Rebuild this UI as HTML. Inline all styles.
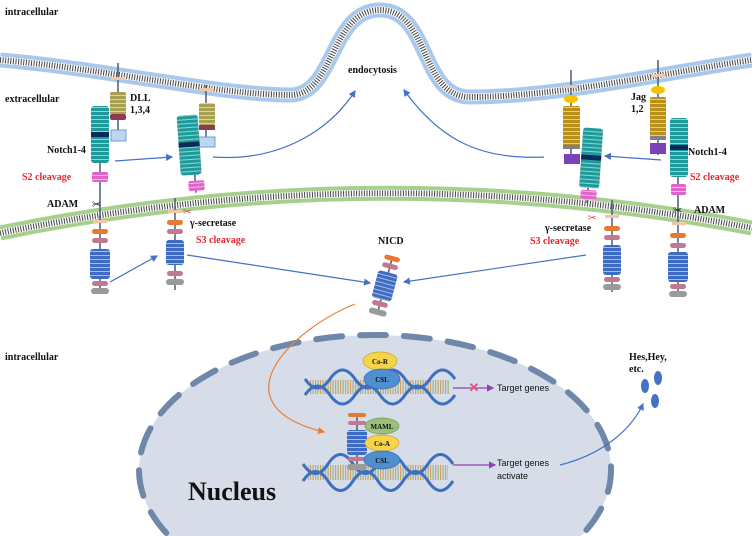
<!DOCTYPE html>
<html><head><meta charset="utf-8"><style>
html,body{margin:0;padding:0;background:#fff;width:752px;height:536px;overflow:hidden;}
svg{display:block;overflow:hidden;}
.t{font-family:"Liberation Serif",serif;font-weight:bold;font-size:10px;fill:#111;}
.r{font-family:"Liberation Serif",serif;font-weight:bold;font-size:10px;fill:#e8262b;}
.s{font-family:"Liberation Sans",sans-serif;font-size:9px;fill:#111;}
</style></head><body>
<svg width="752" height="536" viewBox="0 0 752 536" xmlns="http://www.w3.org/2000/svg">
<defs>
<pattern id="st" width="6" height="4" patternUnits="userSpaceOnUse"><rect width="6" height="1" y="3" fill="rgba(255,255,255,0.55)"/></pattern>
<pattern id="bp" width="5" height="20" patternUnits="userSpaceOnUse"><rect width="1.2" height="20" fill="#d9822b"/><rect x="2.5" width="1.2" height="20" fill="#7aa85a"/></pattern>
<marker id="ab" markerWidth="6" markerHeight="6" refX="5" refY="3" orient="auto"><path d="M0,0 L6,3 L0,6z" fill="#4472c4"/></marker>
<marker id="ao" markerWidth="6" markerHeight="6" refX="5" refY="3" orient="auto"><path d="M0,0 L6,3 L0,6z" fill="#ed7d31"/></marker>
<marker id="ap" markerWidth="6" markerHeight="6" refX="5" refY="3" orient="auto"><path d="M0,0 L6,3 L0,6z" fill="#8e44ad"/></marker>
</defs>
<!-- membranes -->
<g fill="none">
<path d="M0,60 C100,68 220,95 290,95 C335,95 330,10 380,10 C430,10 420,97 470,97 C560,97 680,70 752,60" stroke="#a9c9ec" stroke-width="15"/>
<path d="M0,60 C100,68 220,95 290,95 C335,95 330,10 380,10 C430,10 420,97 470,97 C560,97 680,70 752,60" stroke="#fff" stroke-width="7"/>
<path d="M0,60 C100,68 220,95 290,95 C335,95 330,10 380,10 C430,10 420,97 470,97 C560,97 680,70 752,60" stroke="#444" stroke-width="6" stroke-dasharray="1 1.6"/>
<path d="M0,233 Q376,156 752,228" stroke="#a8d08d" stroke-width="15"/>
<path d="M0,233 Q376,156 752,228" stroke="#fff" stroke-width="7"/>
<path d="M0,233 Q376,156 752,228" stroke="#444" stroke-width="6" stroke-dasharray="1 1.6"/>
</g>

<!-- nucleus -->
<path d="M169,536 A236,135 0 1 1 581,536 Z" fill="#d6dde8"/>
<path d="M166.3,533 A236,135 0 1 1 583.7,533" fill="none" stroke="#6f88aa" stroke-width="6" stroke-dasharray="26 18" stroke-linecap="round"/>

<!-- labels -->
<text class="t" x="5" y="15" font-size="11">intracellular</text>
<text class="t" x="5" y="102" font-size="11">extracellular</text>
<text class="t" x="5" y="360" font-size="11">intracellular</text>
<text class="t" x="348" y="73" font-size="11">endocytosis</text>
<text class="t" x="188" y="500" style="font-size:26px">Nucleus</text>
<text class="t" x="378" y="244">NICD</text>
<text class="t" x="629" y="360">Hes,Hey,</text>
<text class="t" x="629" y="372">etc.</text>

<!-- left notch + DLL -->
<g stroke="#4a5a7a" stroke-width="1.5"><line x1="100" y1="106" x2="100" y2="292"/><line x1="118" y1="63" x2="118" y2="140"/></g>
<rect x="111" y="77" width="14" height="3" fill="#f2c7a5"/>
<rect x="110" y="92" width="16" height="22" rx="2" fill="#a6a050"/><rect x="110" y="92" width="16" height="22" fill="url(#st)"/>
<rect x="110" y="114" width="16" height="6" rx="2" fill="#8e3b4f"/>
<rect x="111" y="130" width="15" height="11" fill="#bdd5ee" stroke="#6a9fd0"/>
<rect x="91" y="106" width="18" height="57" rx="3" fill="#1f9a9a"/><rect x="91" y="106" width="18" height="57" fill="url(#st)"/>
<rect x="91" y="132" width="18" height="5" fill="#0d2a5c"/>
<rect x="92" y="172" width="16" height="10" rx="2" fill="#e064c8"/><rect x="92" y="172" width="16" height="10" fill="url(#st)"/>
<rect x="93" y="220" width="14" height="3" fill="#f2c7a5"/>
<rect x="92" y="229" width="16" height="5" rx="2.5" fill="#e67a2e"/>
<rect x="92" y="238" width="16" height="5" rx="2.5" fill="#c27890"/>
<rect x="90" y="249" width="20" height="30" rx="3" fill="#3e6bc4"/><rect x="90" y="249" width="20" height="30" fill="url(#st)"/>
<rect x="92" y="281" width="16" height="5" rx="2.5" fill="#c27890"/>
<rect x="91" y="288" width="18" height="6" rx="3" fill="#9a9a9a"/>
<text class="t" x="130" y="101">DLL</text><text class="t" x="130" y="113">1,3,4</text>
<text class="t" x="47" y="153">Notch1-4</text>
<text class="r" x="22" y="180">S2 cleavage</text>
<text class="t" x="47" y="207">ADAM</text>
<text x="92" y="208" font-size="11" fill="#111" font-family="DejaVu Sans">✂</text>

<!-- middle left complex -->
<line x1="206" y1="85" x2="206" y2="137" stroke="#4a5a7a" stroke-width="1.5"/>
<rect x="199" y="88" width="14" height="3" fill="#f2c7a5"/>
<rect x="199" y="103" width="16" height="22" rx="2" fill="#a6a050"/><rect x="199" y="103" width="16" height="22" fill="url(#st)"/>
<rect x="199" y="125" width="16" height="5" fill="#8e3b4f"/>
<rect x="199" y="137" width="16" height="10" fill="#bdd5ee" stroke="#6a9fd0"/>
<g transform="rotate(-4 190 150)">
<line x1="193" y1="175" x2="193" y2="193" stroke="#4a5a7a" stroke-width="1.5"/>
<rect x="179" y="115" width="21" height="60" rx="3" fill="#1f9a9a"/><rect x="179" y="115" width="21" height="60" fill="url(#st)"/>
<rect x="179" y="142" width="21" height="5" fill="#0d2a5c"/>
<rect x="186" y="181" width="16" height="10" rx="2" fill="#e064c8"/><rect x="186" y="181" width="16" height="10" fill="url(#st)"/>
</g>
<line x1="175" y1="198" x2="175" y2="290" stroke="#4a5a7a" stroke-width="1.5"/>
<rect x="168" y="210" width="14" height="3" fill="#f2c7a5"/>
<rect x="167" y="220" width="16" height="5" rx="2.5" fill="#e67a2e"/>
<rect x="167" y="229" width="16" height="5" rx="2.5" fill="#c27890"/>
<rect x="166" y="240" width="18" height="25" rx="3" fill="#3e6bc4"/><rect x="166" y="240" width="18" height="25" fill="url(#st)"/>
<rect x="167" y="271" width="16" height="5" rx="2.5" fill="#c27890"/>
<rect x="166" y="279" width="18" height="6" rx="3" fill="#9a9a9a"/>
<text x="183" y="215" font-size="10" fill="#d9443a" font-family="DejaVu Sans">✂</text>
<text class="t" x="190" y="226">γ-secretase</text>
<text class="r" x="196" y="243">S3 cleavage</text>

<!-- right Jag + notch -->
<g stroke="#4a5a7a" stroke-width="1.5"><line x1="658" y1="60" x2="658" y2="155"/><line x1="678" y1="118" x2="678" y2="297"/></g>
<rect x="651" y="74" width="14" height="3" fill="#f2c7a5"/>
<ellipse cx="658" cy="90" rx="7" ry="4" fill="#f5c400"/>
<rect x="650" y="97" width="16" height="40" rx="2" fill="#b8901a"/><rect x="650" y="97" width="16" height="40" fill="url(#st)"/>
<rect x="650" y="136" width="16" height="4" fill="#7f7f8f"/>
<rect x="650" y="143" width="16" height="11" fill="#7a44b8"/>
<rect x="670" y="118" width="18" height="59" rx="3" fill="#1f9a9a"/><rect x="670" y="118" width="18" height="59" fill="url(#st)"/>
<rect x="670" y="145" width="18" height="5" fill="#0d2a5c"/>
<rect x="671" y="184" width="15" height="11" rx="2" fill="#e064c8"/><rect x="671" y="184" width="15" height="11" fill="url(#st)"/>
<rect x="672" y="222" width="14" height="3" fill="#f2c7a5"/>
<rect x="670" y="233" width="16" height="5" rx="2.5" fill="#e67a2e"/>
<rect x="670" y="243" width="16" height="5" rx="2.5" fill="#c27890"/>
<rect x="668" y="252" width="20" height="30" rx="3" fill="#3e6bc4"/><rect x="668" y="252" width="20" height="30" fill="url(#st)"/>
<rect x="670" y="284" width="16" height="5" rx="2.5" fill="#c27890"/>
<rect x="669" y="291" width="18" height="6" rx="3" fill="#9a9a9a"/>
<text x="673" y="214" font-size="11" fill="#111" font-family="DejaVu Sans">✂</text>
<text class="t" x="631" y="100">Jag</text><text class="t" x="631" y="112">1,2</text>
<text class="t" x="688" y="155">Notch1-4</text>
<text class="r" x="690" y="180">S2 cleavage</text>
<text class="t" x="694" y="213">ADAM</text>

<!-- middle right complex -->
<line x1="571" y1="70" x2="571" y2="160" stroke="#4a5a7a" stroke-width="1.5"/>
<rect x="564" y="85" width="14" height="3" fill="#f2c7a5"/>
<ellipse cx="571" cy="99" rx="7" ry="4" fill="#f5c400"/>
<rect x="563" y="106" width="17" height="40" rx="2" fill="#b8901a"/><rect x="563" y="106" width="17" height="40" fill="url(#st)"/>
<rect x="563" y="145" width="17" height="4" fill="#7f7f8f"/>
<rect x="564" y="154" width="16" height="10" fill="#7a44b8"/>
<g transform="rotate(4 590 160)">
<line x1="590" y1="188" x2="590" y2="203" stroke="#4a5a7a" stroke-width="1.5"/>
<rect x="581" y="128" width="20" height="60" rx="3" fill="#1f9a9a"/><rect x="581" y="128" width="20" height="60" fill="url(#st)"/>
<rect x="581" y="155" width="20" height="5" fill="#0d2a5c"/>
<rect x="583" y="190" width="16" height="10" rx="2" fill="#e064c8"/><rect x="583" y="190" width="16" height="10" fill="url(#st)"/>
</g>
<line x1="612" y1="200" x2="612" y2="292" stroke="#4a5a7a" stroke-width="1.5"/>
<rect x="605" y="215" width="14" height="3" fill="#f2c7a5"/>
<rect x="604" y="226" width="16" height="5" rx="2.5" fill="#e67a2e"/>
<rect x="604" y="235" width="16" height="5" rx="2.5" fill="#c27890"/>
<rect x="603" y="245" width="18" height="30" rx="3" fill="#3e6bc4"/><rect x="603" y="245" width="18" height="30" fill="url(#st)"/>
<rect x="604" y="277" width="16" height="5" rx="2.5" fill="#c27890"/>
<rect x="603" y="284" width="18" height="6" rx="3" fill="#9a9a9a"/>
<text x="588" y="221" font-size="10" fill="#d9443a" font-family="DejaVu Sans">✂</text>
<text class="t" x="545" y="231">γ-secretase</text>
<text class="r" x="530" y="244">S3 cleavage</text>

<!-- NICD -->
<g transform="rotate(15 385 285)">
<line x1="385" y1="255" x2="385" y2="315" stroke="#4a5a7a" stroke-width="1.5"/>
<rect x="377" y="255" width="16" height="5" rx="2.5" fill="#e67a2e"/>
<rect x="377" y="263" width="16" height="5" rx="2.5" fill="#c27890"/>
<rect x="375" y="272" width="20" height="28" rx="3" fill="#3e6bc4"/><rect x="375" y="272" width="20" height="28" fill="url(#st)"/>
<rect x="377" y="302" width="16" height="5" rx="2.5" fill="#c27890"/>
<rect x="376" y="310" width="18" height="6" rx="3" fill="#9a9a9a"/>
</g>

<!-- arrows -->
<g fill="none" stroke="#4472c4" stroke-width="1.2" marker-end="url(#ab)">
<line x1="115" y1="161" x2="172" y2="157"/>
<path d="M213,157 C280,162 330,130 355,91"/>
<line x1="661" y1="160" x2="605" y2="156"/>
<path d="M544,157 C480,160 440,140 404,90"/>
<line x1="110" y1="282" x2="157" y2="256"/>
<line x1="187" y1="255" x2="370" y2="283"/>
<line x1="586" y1="255" x2="404" y2="282"/>
<path d="M560,465 C600,455 630,432 643,404"/>
</g>
<path d="M355,304 C290,330 215,405 324,432" fill="none" stroke="#ed7d31" stroke-width="1.2" marker-end="url(#ao)"/>

<!-- Hes dots -->
<ellipse cx="645" cy="386" rx="4" ry="7" fill="#4472c4"/>
<ellipse cx="658" cy="378" rx="4" ry="7" fill="#4472c4"/>
<ellipse cx="655" cy="401" rx="4" ry="7" fill="#4472c4"/>

<!-- DNA upper -->
<rect x="310" y="380" width="140" height="14" fill="url(#bp)" opacity="0.7"/>
<g fill="none" stroke="#3f6fc0" stroke-width="3">
<path d="M305,395 q12.5,-18 25,0 t25,0 t25,0 t25,0 t25,0 t25,0"/>
<path d="M305,379 q12.5,18 25,0 t25,0 t25,0 t25,0 t25,0 t25,0"/>
</g>
<ellipse cx="380" cy="361" rx="17" ry="9" fill="#f5d34a" stroke="#c9a82a" stroke-width="0.7"/>
<text x="380" y="364" text-anchor="middle" class="t" style="font-size:7px">Co-R</text>
<ellipse cx="382" cy="379" rx="18" ry="10" fill="#4f8fd0" stroke="#356fb0" stroke-width="0.7"/>
<text x="382" y="382" text-anchor="middle" class="t" style="font-size:7px">CSL</text>
<line x1="453" y1="388" x2="493" y2="388" stroke="#8e44ad" stroke-width="1.2" marker-end="url(#ap)"/>
<text x="474" y="392" text-anchor="middle" font-size="13" fill="#e8507a" font-weight="bold" font-family="Liberation Sans">✕</text>
<text class="s" x="497" y="391">Target genes</text>

<!-- DNA lower -->
<rect x="308" y="465" width="140" height="15" fill="url(#bp)" opacity="0.7"/>
<g fill="none" stroke="#3f6fc0" stroke-width="3">
<path d="M303,481 q12.5,-19 25,0 t25,0 t25,0 t25,0 t25,0 t25,0"/>
<path d="M303,464 q12.5,19 25,0 t25,0 t25,0 t25,0 t25,0 t25,0"/>
</g>
<line x1="357" y1="414" x2="357" y2="468" stroke="#4a5a7a" stroke-width="1.5"/>
<rect x="348" y="413" width="18" height="4" rx="2" fill="#e67a2e"/>
<rect x="348" y="421" width="18" height="4" rx="2" fill="#c27890"/>
<rect x="347" y="430" width="20" height="25" rx="3" fill="#3e6bc4"/><rect x="347" y="430" width="20" height="25" fill="url(#st)"/>
<rect x="348" y="457" width="18" height="4" rx="2" fill="#c27890"/>
<rect x="347" y="464" width="20" height="6" rx="3" fill="#9a9a9a"/>
<ellipse cx="382" cy="426" rx="17" ry="8" fill="#9dbf7e" stroke="#6f9a50" stroke-width="0.7"/>
<text x="382" y="429" text-anchor="middle" class="t" style="font-size:7px">MAML</text>
<ellipse cx="382" cy="443" rx="17" ry="8" fill="#f5d34a" stroke="#c9a82a" stroke-width="0.7"/>
<text x="382" y="446" text-anchor="middle" class="t" style="font-size:7px">Co-A</text>
<ellipse cx="382" cy="460" rx="18" ry="9" fill="#4f8fd0" stroke="#356fb0" stroke-width="0.7"/>
<text x="382" y="463" text-anchor="middle" class="t" style="font-size:7px">CSL</text>
<line x1="453" y1="465" x2="495" y2="465" stroke="#8e44ad" stroke-width="1.2" marker-end="url(#ap)"/>
<text class="s" x="497" y="466">Target genes</text>
<text class="s" x="497" y="479">activate</text>
</svg>
</body></html>
